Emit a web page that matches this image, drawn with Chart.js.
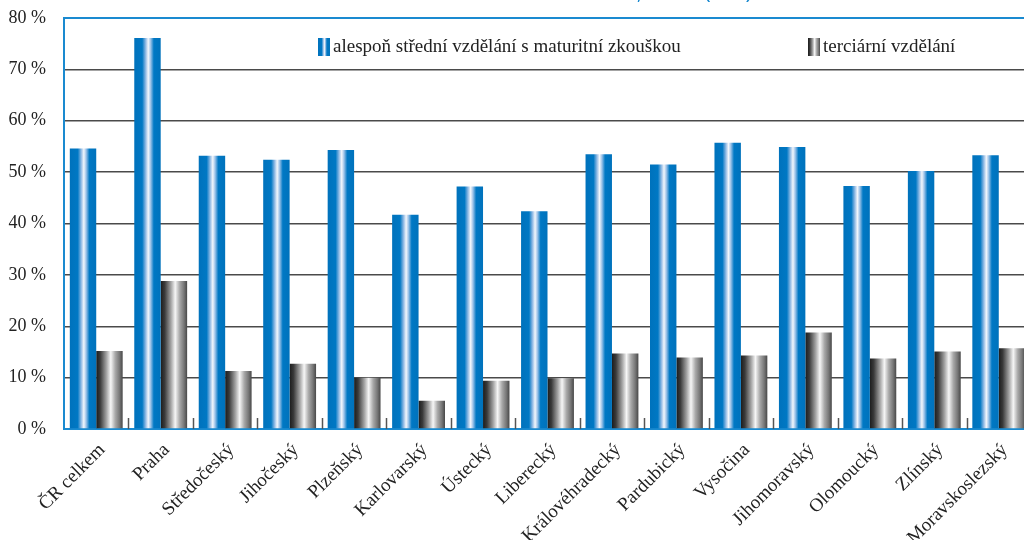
<!DOCTYPE html>
<html>
<head>
<meta charset="utf-8">
<script src="https://cdn.jsdelivr.net/npm/chart.js@4/dist/chart.umd.min.js"></script>
<style>
  html, body { margin: 0; padding: 0; background: #fff; overflow: hidden; }
  canvas { display: block; }
</style>
</head>
<body>
<canvas id="eduChart" width="1032" height="540"></canvas>
<script>
const categories = ['ČR celkem', 'Praha', 'Středočeský', 'Jihočeský', 'Plzeňský', 'Karlovarský', 'Ústecký',
    'Liberecký', 'Královéhradecký', 'Pardubický', 'Vysočina', 'Jihomoravský', 'Olomoucký', 'Zlínský', 'Moravskoslezský'];
const secondaryValues = [54.6, 76.1, 53.2, 52.4, 54.3, 41.7, 47.2, 42.4, 53.5, 51.5, 55.7, 54.9, 47.3, 50.2, 53.3];
const tertiaryValues = [15.2, 28.8, 11.3, 12.7, 10.0, 5.5, 9.4, 9.9, 14.7, 13.9, 14.3, 18.8, 13.7, 15.1, 15.7];
const seriesLabels = ['alespoň střední vzdělání s maturitní zkouškou', 'terciární vzdělání'];
const yTicks = [0, 10, 20, 30, 40, 50, 60, 70, 80];
const titleText = 'Vzdělání osob ve věku 25–64 let, 2011 (v %)';

const BLUE = '#1a8ad0';
const CAT_PCT = 0.82;
const serif = '"Liberation Serif", "DejaVu Serif", serif';

const blueStops = [[0, '#0072bc'], [0.3, '#0078c4'], [0.43, '#8fb9e4'], [0.53, '#f3f7fc'], [0.62, '#9cc2e8'], [0.74, '#0078c4'], [1, '#0072bc']];
const grayStops = [[0, '#1c1c1c'], [0.15, '#3a3a3a'], [0.38, '#a0a0a0'], [0.55, '#f6f6f6'], [0.72, '#a8a8a8'], [0.88, '#777'], [1, '#484848']];

function makeGradient(c, stops) {
    const chart = c.chart;
    const xs = chart.scales.x;
    if (!xs || !chart.chartArea || c.dataIndex === undefined) return stops[1][1];
    const cat = xs.width / categories.length;
    const w = cat * CAT_PCT / 2;
    const left = xs.getPixelForValue(c.dataIndex) - w + c.datasetIndex * w;
    const g = chart.ctx.createLinearGradient(left, 0, left + w, 0);
    stops.forEach(s => g.addColorStop(s[0], s[1]));
    return g;
}

function legendGradient(ctx, x, w, stops) {
    const g = ctx.createLinearGradient(x, 0, x + w, 0);
    stops.forEach(s => g.addColorStop(s[0], s[1]));
    return g;
}

// title (mostly above the visible area), inner legend and small category ticks
const decorations = {
    id: 'decorations',
    afterDatasetsDraw(chart) {
        const ctx = chart.ctx;
        const xs = chart.scales.x;
        const area = chart.chartArea;
        ctx.save();
        ctx.strokeStyle = '#555';
        ctx.lineWidth = 1.5;
        for (let i = 1; i <= categories.length; i++) {
            const x = Math.round((xs.getPixelForValue(i - 1) + xs.getPixelForValue(Math.min(i, categories.length - 1)) ) / 2);
            const bx = i === categories.length ? area.right : x;
            ctx.beginPath();
            ctx.moveTo(bx + 0.5, area.bottom - 11);
            ctx.lineTo(bx + 0.5, area.bottom);
            ctx.stroke();
        }
        ctx.restore();
    },
    afterDraw(chart) {
        const ctx = chart.ctx;
        ctx.save();
        ctx.fillStyle = BLUE;
        ctx.font = '22px "Open Sans", sans-serif';
        ctx.textAlign = 'right';
        ctx.textBaseline = 'alphabetic';
        ctx.fillText(titleText, 752, -1);

        const items = [{ x: 318, stops: blueStops }, { x: 808, stops: grayStops }];
        ctx.textAlign = 'left';
        ctx.textBaseline = 'middle';
        ctx.font = '19px ' + serif;
        items.forEach((it, i) => {
            ctx.fillStyle = legendGradient(ctx, it.x, 12, it.stops);
            ctx.fillRect(it.x, 38, 12, 18);
            ctx.fillStyle = '#222';
            ctx.fillText(seriesLabels[i], it.x + 15, 47);
        });
        ctx.restore();
    }
};

const ctx = document.getElementById('eduChart').getContext('2d');
const eduChart = new Chart(ctx, {
    type: 'bar',
    data: {
        labels: categories,
        datasets: [
            {
                label: seriesLabels[0],
                data: secondaryValues,
                backgroundColor: c => makeGradient(c, blueStops),
                borderWidth: 0,
                categoryPercentage: CAT_PCT,
                barPercentage: 1
            },
            {
                label: seriesLabels[1],
                data: tertiaryValues,
                backgroundColor: c => makeGradient(c, grayStops),
                borderWidth: 0,
                categoryPercentage: CAT_PCT,
                barPercentage: 1
            }
        ]
    },
    options: {
        responsive: false,
        animation: false,
        events: [],
        layout: { padding: { top: 18, right: 1, left: 0, bottom: 0 } },
        plugins: {
            legend: { display: false },
            tooltip: { enabled: false }
        },
        scales: {
            x: {
                grid: { display: false },
                border: { display: true, color: BLUE, width: 2 },
                afterFit: scale => { scale.height = 111; },
                ticks: {
                    autoSkip: false,
                    minRotation: 45,
                    maxRotation: 45,
                    padding: 2,
                    labelOffset: 6,
                    color: '#222',
                    font: { family: serif, size: 19 }
                }
            },
            y: {
                min: 0,
                max: 80,
                afterBuildTicks: scale => { scale.ticks = yTicks.map(v => ({ value: v })); },
                afterFit: scale => {
                    scale.width = 64;
                    scale.paddingTop = 0;
                    scale.paddingBottom = 0;
                },
                border: { display: true, color: BLUE, width: 2 },
                grid: {
                    drawTicks: false,
                    color: c => (c.tick && c.tick.value === 80) ? BLUE : '#4a4a4a',
                    lineWidth: c => (c.tick && c.tick.value === 80) ? 2 : 1.5
                },
                ticks: {
                    padding: 18,
                    color: '#222',
                    font: { family: serif, size: 18 },
                    callback: v => v + ' %'
                }
            }
        }
    },
    plugins: [decorations]
});
</script>
</body>
</html>
